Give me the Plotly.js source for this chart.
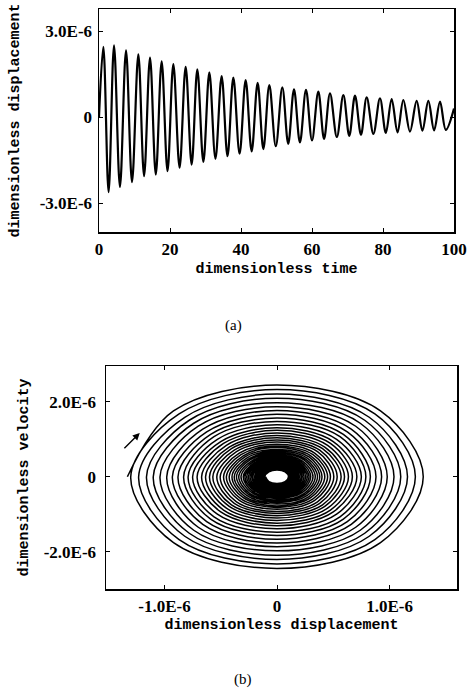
<!DOCTYPE html>
<html><head><meta charset="utf-8">
<script src="https://cdn.plot.ly/plotly-3.0.1.min.js"></script>
<style>html,body{margin:0;padding:0;background:#fff}#chart{width:467px;height:698px}</style>
</head><body><div id="chart"></div>
<script>
// ---- (a) displacement time history, values in units of 1e-6 ----
const peakTimes   = [1.22, 4.23, 7.61, 11.08, 14.37, 17.65, 20.94, 24.41, 27.70, 31.08, 34.55, 37.84, 41.31, 44.69, 47.98, 51.64, 54.93, 58.31, 61.78, 65.07, 68.83, 72.11, 75.40, 79.15, 82.44, 85.73, 89.48, 92.77, 96.06];
const peakValues  = [2.45, 2.50, 2.33, 2.19, 2.08, 1.95, 1.85, 1.75, 1.67, 1.56, 1.43, 1.38, 1.29, 1.20, 1.12, 1.04, 0.97, 0.95, 0.89, 0.83, 0.77, 0.75, 0.69, 0.66, 0.63, 0.60, 0.57, 0.57, 0.54];
const troughTimes = [2.7, 5.9, 9.3, 12.7, 16.0, 19.3, 22.7, 26.1, 29.4, 32.8, 36.2, 39.6, 43.0, 46.3, 49.8, 53.3, 56.6, 60.0, 63.4, 67.0, 70.5, 73.8, 77.3, 80.8, 84.1, 87.6, 91.1, 94.4, 97.7];
const troughValues= [-2.61, -2.43, -2.26, -2.05, -2.00, -1.88, -1.76, -1.65, -1.56, -1.45, -1.36, -1.27, -1.19, -1.11, -1.01, -0.93, -0.88, -0.81, -0.76, -0.69, -0.65, -0.61, -0.58, -0.55, -0.53, -0.50, -0.47, -0.46, -0.44];
const startT = 0, startV = 0, endT = 100, endV = 0.30;

// ---- (b) phase trajectory, read per turn (units of 1e-6) ----
const startDisp = -1.33, startVelo = 0;   // outermost left point, where the trajectory begins
// crossings of the displacement axis / velocity axis
const dispAmp = [1.30, 1.23, 1.16, 1.10, 1.04, 0.98, 0.93, 0.88, 0.83, 0.79, 0.75, 0.71, 0.67, 0.635, 0.60, 0.57, 0.535, 0.505, 0.475, 0.45, 0.425, 0.40, 0.38, 0.36, 0.34, 0.32, 0.30, 0.285, 0.27, 0.255, 0.24, 0.225, 0.215, 0.20, 0.19, 0.18, 0.17, 0.16, 0.152, 0.144, 0.136, 0.128, 0.121, 0.114, 0.108, 0.102];
const veloAmp = [2.45, 2.33, 2.21, 2.10, 1.98, 1.87, 1.77, 1.67, 1.57, 1.48, 1.39, 1.31, 1.24, 1.17, 1.10, 1.04, 0.98, 0.93, 0.87, 0.82, 0.78, 0.73, 0.69, 0.65, 0.62, 0.58, 0.55, 0.52, 0.49, 0.46, 0.44, 0.41, 0.39, 0.37, 0.35, 0.33, 0.31, 0.29, 0.27, 0.26, 0.24, 0.23, 0.21, 0.20, 0.19, 0.18];
// points of each turn on the diagonals (|disp|, |velo|)
const dispDiag = [0.92, 0.87, 0.82, 0.78, 0.74, 0.70, 0.66, 0.625, 0.59, 0.56, 0.53, 0.50, 0.475, 0.45, 0.425, 0.405, 0.38, 0.36, 0.335, 0.32, 0.30, 0.285, 0.27, 0.255, 0.24, 0.227, 0.213, 0.202, 0.19, 0.18, 0.17, 0.16, 0.152, 0.142, 0.135, 0.128, 0.12, 0.113, 0.108, 0.102, 0.097, 0.091, 0.086, 0.081, 0.077, 0.072];
const veloDiag = [1.76, 1.68, 1.59, 1.51, 1.43, 1.35, 1.27, 1.20, 1.13, 1.07, 1.00, 0.94, 0.89, 0.84, 0.79, 0.75, 0.71, 0.67, 0.63, 0.59, 0.56, 0.53, 0.50, 0.47, 0.45, 0.42, 0.40, 0.37, 0.35, 0.33, 0.32, 0.30, 0.28, 0.27, 0.25, 0.24, 0.22, 0.21, 0.19, 0.19, 0.17, 0.17, 0.15, 0.14, 0.14, 0.13];

const topXTicks = [0, 20, 40, 60, 80, 100];
const topYTickVals = [-3, 0, 3], topYTickText = ['-3.0E-6', '0', '3.0E-6'];
const botXTickVals = [-1, 0, 1], botXTickText = ['-1.0E-6', '0', '1.0E-6'];
const botYTickVals = [-2, 0, 2], botYTickText = ['-2.0E-6', '0', '2.0E-6'];

const U = 1e-6;
const t = [startT], d = [startV * U];
for (let i = 0; i < peakTimes.length; i++) {
  t.push(peakTimes[i]); d.push(peakValues[i] * U);
  t.push(troughTimes[i]); d.push(troughValues[i] * U);
}
t.push(endT); d.push(endV * U);

// clockwise: upper-left, top, upper-right, right, lower-right, bottom, lower-left, left
const px = [startDisp * U], pv = [startVelo * U];
for (let k = 0; k < dispAmp.length; k++) {
  px.push(-dispDiag[k] * U, 0, dispDiag[k] * U, dispAmp[k] * U, dispDiag[k] * U, 0, -dispDiag[k] * U, -dispAmp[k] * U);
  pv.push(veloDiag[k] * U, veloAmp[k] * U, veloDiag[k] * U, 0, -veloDiag[k] * U, -veloAmp[k] * U, -veloDiag[k] * U, 0);
}

const tickFont = {family: 'Liberation Serif', size: 17, weight: 700, color: '#000'};
const titleFont = {family: 'Liberation Mono', size: 15, weight: 700, color: '#000'};
const W = 467, H = 698;
const axBase = {showline: true, linecolor: '#000', linewidth: 1.5, mirror: 'allticks', ticks: 'inside', ticklen: 4, tickcolor: '#000', tickwidth: 1, showgrid: false, zeroline: false, tickfont: tickFont};

const traces = [
  {x: t, y: d, xaxis: 'x', yaxis: 'y', mode: 'lines', line: {color: '#000', width: 2.2, shape: 'spline', smoothing: 1}, hoverinfo: 'skip'},
  {x: px, y: pv, xaxis: 'x2', yaxis: 'y2', mode: 'lines', line: {color: '#000', width: 1.5, shape: 'spline', smoothing: 1}, hoverinfo: 'skip'}
];

const layout = {
  width: W, height: H, margin: {l: 0, r: 0, t: 0, b: 0},
  paper_bgcolor: '#fff', plot_bgcolor: '#fff', showlegend: false,
  xaxis: Object.assign({}, axBase, {domain: [99/W, 454/W], range: [0, 100], tickvals: topXTicks, ticklabelstandoff: 1,
    title: {text: 'dimensionless time', font: titleFont, standoff: 4}}),
  yaxis: Object.assign({}, axBase, {domain: [1 - 232/H, 1 - 9/H], range: [-4.0e-6, 3.77e-6], tickvals: topYTickVals.map(v => v * U), ticktext: topYTickText, ticklabelstandoff: 2,
    title: {text: 'dimensionless displacement', font: titleFont, standoff: 16}}),
  xaxis2: Object.assign({}, axBase, {domain: [106/W, 457/W], range: [-1.52e-6, 1.6e-6], tickvals: botXTickVals.map(v => v * U), ticktext: botXTickText, anchor: 'y2', ticklabelstandoff: 1,
    title: {text: 'dimensionless displacement', font: titleFont, standoff: 3}}),
  yaxis2: Object.assign({}, axBase, {domain: [1 - 589/H, 1 - 366/H], range: [-3.0e-6, 2.96e-6], tickvals: botYTickVals.map(v => v * U), ticktext: botYTickText, anchor: 'x2', ticklabelstandoff: 5,
    title: {text: 'dimensionless velocity', font: titleFont, standoff: 11}}),
  annotations: [
    {text: '(a)', xref: 'paper', yref: 'paper', x: 233/W, y: 1 - 325/H, showarrow: false, font: {family: 'Liberation Serif', size: 15, color: '#000'}},
    {text: '(b)', xref: 'paper', yref: 'paper', x: 243/W, y: 1 - 690/H, showarrow: false, font: {family: 'Liberation Serif', size: 15, color: '#000'}},
    {text: '', xref: 'x2', yref: 'y2', x: -1.22e-6, y: 1.17e-6, axref: 'x2', ayref: 'y2', ax: -1.37e-6, ay: 0.72e-6, showarrow: true, arrowhead: 2, arrowsize: 1, arrowwidth: 1.4, arrowcolor: '#000'}
  ]
};
Plotly.newPlot('chart', traces, layout, {staticPlot: true, displayModeBar: false});
</script></body></html>
